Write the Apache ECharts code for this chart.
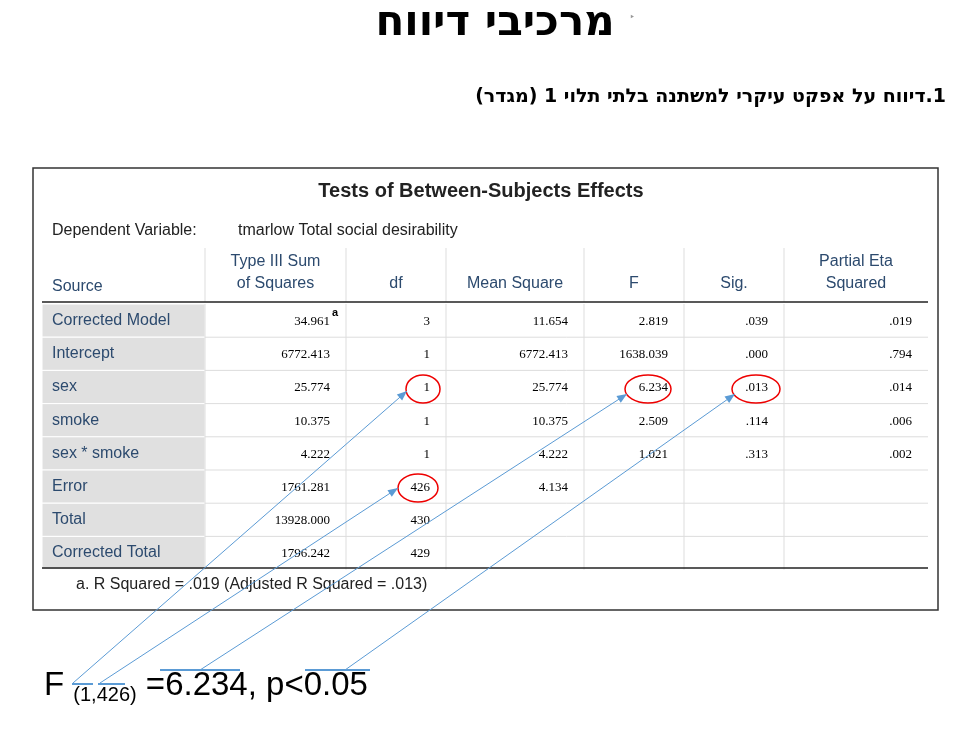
<!DOCTYPE html><html><head><meta charset="utf-8"><script src="https://cdn.jsdelivr.net/npm/echarts@6/dist/echarts.min.js"></script>
<style>body{margin:0;background:#fff}#c{width:970px;height:739px}</style></head><body><div id="c"></div><script>
const titleText = "מרכיבי דיווח";
const subtitleText = "1.דיווח על אפקט עיקרי למשתנה בלתי תלוי 1 (מגדר)";
const tableTitle = "Tests of Between-Subjects Effects";
const headers = ["Source","Type III Sum\nof Squares","df","Mean Square","F","Sig.","Partial Eta\nSquared"];
const sources = ["Corrected Model","Intercept","sex","smoke","sex * smoke","Error","Total","Corrected Total"];
const sumSquares = ["34.961","6772.413","25.774","10.375","4.222","1761.281","13928.000","1796.242"];
const dfs = ["3","1","1","1","1","426","430","429"];
const meanSquares = ["11.654","6772.413","25.774","10.375","4.222","4.134","",""];
const fValues = ["2.819","1638.039","6.234","2.509","1.021","","",""];
const sigs = [".039",".000",".013",".114",".313","","",""];
const etas = [".019",".794",".014",".006",".002","","",""];
const footnote = "a. R Squared = .019 (Adjusted R Squared = .013)";

const colX=[42,205,346,446,584,684,784,928];
const rowTop=304, rowH=33.2;
const g=[];
g.push({type:'text',style:{text:titleText,x:495,y:24,align:'center',verticalAlign:'middle',font:'bold 42px "DejaVu Sans"',fill:'#000'}});
g.push({type:'text',style:{text:'‣',x:632,y:18,align:'center',verticalAlign:'middle',font:'12px sans-serif',fill:'#999'}});
g.push({type:'text',style:{text:'\u202B'+subtitleText+'\u202C',x:946,y:97,align:'right',verticalAlign:'middle',font:'bold 19px "DejaVu Sans"',fill:'#000'}});
g.push({type:'rect',shape:{x:33,y:168,width:905,height:442},style:{fill:'#fff',stroke:'#333',lineWidth:1.5}});
g.push({type:'text',style:{text:tableTitle,x:481,y:191,align:'center',verticalAlign:'middle',font:'bold 20px "Liberation Sans"',fill:'#222'}});
g.push({type:'text',style:{text:'Dependent Variable:',x:52,y:231,verticalAlign:'middle',font:'16px "Liberation Sans"',fill:'#222'}});
g.push({type:'text',style:{text:'tmarlow Total social desirability',x:238,y:231,verticalAlign:'middle',font:'16px "Liberation Sans"',fill:'#222'}});
g.push({type:'text',style:{text:headers[0],x:52,y:287,verticalAlign:'middle',font:'16px "Liberation Sans"',fill:'#2c4a6e'}});
for(let c=1;c<7;c++){g.push({type:'text',style:{text:headers[c],x:(colX[c]+colX[c+1])/2,y:headers[c].includes('\n')?273:284,align:'center',verticalAlign:'middle',font:'16px "Liberation Sans"',fill:'#2c4a6e',lineHeight:22}});
 g.push({type:'line',shape:{x1:colX[c],y1:248,x2:colX[c],y2:302},style:{stroke:'#ddd',lineWidth:1}});}
g.push({type:'line',shape:{x1:colX[0],y1:302,x2:colX[7],y2:302},style:{stroke:'#222',lineWidth:1.5}});
const cols=[sumSquares,dfs,meanSquares,fValues,sigs,etas];
sources.forEach((s,r)=>{
 const y0=rowTop+r*rowH, yc=y0+rowH/2;
 g.push({type:'rect',shape:{x:colX[0],y:y0,width:colX[1]-colX[0],height:rowH},style:{fill:'#e0e0e0',stroke:'#fff',lineWidth:1}});
 g.push({type:'text',style:{text:s,x:52,y:yc,verticalAlign:'middle',font:'16px "Liberation Sans"',fill:'#2c4a6e'}});
 cols.forEach((arr,c)=>{
  g.push({type:'text',style:{text:arr[r],x:colX[c+2]-16,y:yc+1,align:'right',verticalAlign:'middle',font:'13px "Liberation Serif"',fill:'#000'}});
 });
 if(r>0)g.push({type:'line',shape:{x1:colX[1],y1:y0,x2:colX[7],y2:y0},style:{stroke:'#ddd',lineWidth:1}});
});
g.push({type:'text',style:{text:'a',x:332,y:313,verticalAlign:'middle',font:'bold 11px "Liberation Sans"',fill:'#000'}});
for(let c=1;c<7;c++)g.push({type:'line',shape:{x1:colX[c],y1:rowTop,x2:colX[c],y2:rowTop+8*rowH},style:{stroke:'#ddd',lineWidth:1}});
g.push({type:'line',shape:{x1:colX[0],y1:568,x2:colX[7],y2:568},style:{stroke:'#222',lineWidth:1.5}});
g.push({type:'text',style:{text:footnote,x:76,y:585,verticalAlign:'middle',font:'16px "Liberation Sans"',fill:'#222'}});
[[423,389,17,14],[648,389,23,14],[756,389,24,14],[418,488,20,14]].forEach(e=>g.push({type:'ellipse',shape:{cx:e[0],cy:e[1],rx:e[2],ry:e[3]},style:{fill:'none',stroke:'#e00',lineWidth:1.5}}));
[[73,683,407,391],[100,683,398,488],[200,670,627,394],[345,670,735,394]].forEach(a=>{
 g.push({type:'line',shape:{x1:a[0],y1:a[1],x2:a[2],y2:a[3]},style:{stroke:'#5b9bd5',lineWidth:1}});
 const ang=Math.atan2(a[3]-a[1],a[2]-a[0]),L=10,w=4;
 const bx=a[2]-L*Math.cos(ang),by=a[3]-L*Math.sin(ang);
 g.push({type:'polygon',shape:{points:[[a[2],a[3]],[bx-w*Math.sin(ang),by+w*Math.cos(ang)],[bx+w*Math.sin(ang),by-w*Math.cos(ang)]]},style:{fill:'#5b9bd5'}});
});
[[72,93,684],[98,125,684],[160,240,670],[305,370,670]].forEach(u=>g.push({type:'line',shape:{x1:u[0],y1:u[2],x2:u[1],y2:u[2]},style:{stroke:'#5b9bd5',lineWidth:2}}));
g.push({type:'text',style:{text:'{a|F }{b|(1,426)}{a| =6.234, p<0.05}',x:44,y:686,verticalAlign:'middle',rich:{a:{font:'33px "Liberation Sans"',fill:'#000'},b:{font:'20px "Liberation Sans"',fill:'#000',padding:[18,0,0,0]}}}});
const ch=echarts.init(document.getElementById('c'));
ch.setOption({animation:false,graphic:g});
</script></body></html>
